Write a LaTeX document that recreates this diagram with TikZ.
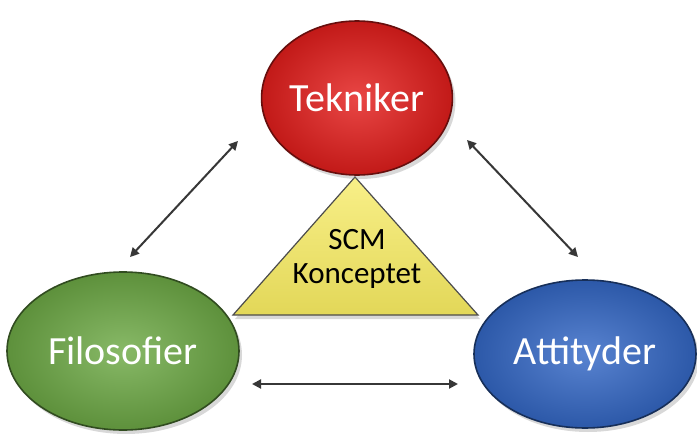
\documentclass[tikz,border=0pt]{standalone}
\usepackage{fontspec}
\setmainfont{Carlito}
\usetikzlibrary{shapes.geometric,arrows.meta,shadows}
\definecolor{tred}{RGB}{228,30,28}
\definecolor{fgreen}{RGB}{110,170,70}
\definecolor{ablue}{RGB}{52,104,198}
\definecolor{scmy}{RGB}{246,234,96}
\definecolor{arrowgray}{RGB}{55,55,55}
\begin{document}
\begin{tikzpicture}[x=1pt,y=-1pt,
  bubble/.style={ellipse, draw=#1!45!black, line width=1.6pt, inner sep=0pt,
    shading=radial, inner color=#1!82!white, outer color=#1!85!black,
    text=white, font=\fontsize{40}{42}\selectfont,
    drop shadow={opacity=0.3, shadow xshift=3pt, shadow yshift=-4pt}},
  link/.style={draw=arrowgray, line width=2pt,
    {Triangle[length=9pt,width=9pt]}-{Triangle[length=9pt,width=9pt]}},
  scmtext/.style={align=center, text=black, font=\fontsize{31}{34}\selectfont, inner sep=0pt}]
\useasboundingbox (0,0) rectangle (697,434);
\fill[white] (0,0) rectangle (697,434);

% arrows
\coordinate (a1) at (238,141);
\coordinate (a2) at (130,257);
\coordinate (b1) at (467,140);
\coordinate (b2) at (578,257);
\coordinate (c1) at (252,384);
\coordinate (c2) at (458,384);
\draw[link] (a1) -- (a2);
\draw[link] (b1) -- (b2);
\draw[link] (c1) -- (c2);

% triangle
\coordinate (ta) at (355,177);
\coordinate (tl) at (233,315);
\coordinate (tr) at (478,315);
\path[top color=scmy!75!white, bottom color=scmy!92!black, draw=black!70, line width=1.2pt,
  drop shadow={opacity=0.3, shadow xshift=2pt, shadow yshift=-4pt}]
  (ta) -- (tl) -- (tr) -- cycle;
\node[scmtext] (scm) at (357,259) {SCM\\Konceptet};

% ellipses
\node[bubble=tred, minimum width=190pt, minimum height=154pt] (tek) at (357,98) {Tekniker};
\node[bubble=fgreen, minimum width=232pt, minimum height=158pt] (fil) at (123,351) {Filosofier};
\node[bubble=ablue, minimum width=222pt, minimum height=148pt] (att) at (585,354) {Attityder};
\end{tikzpicture}
\end{document}
